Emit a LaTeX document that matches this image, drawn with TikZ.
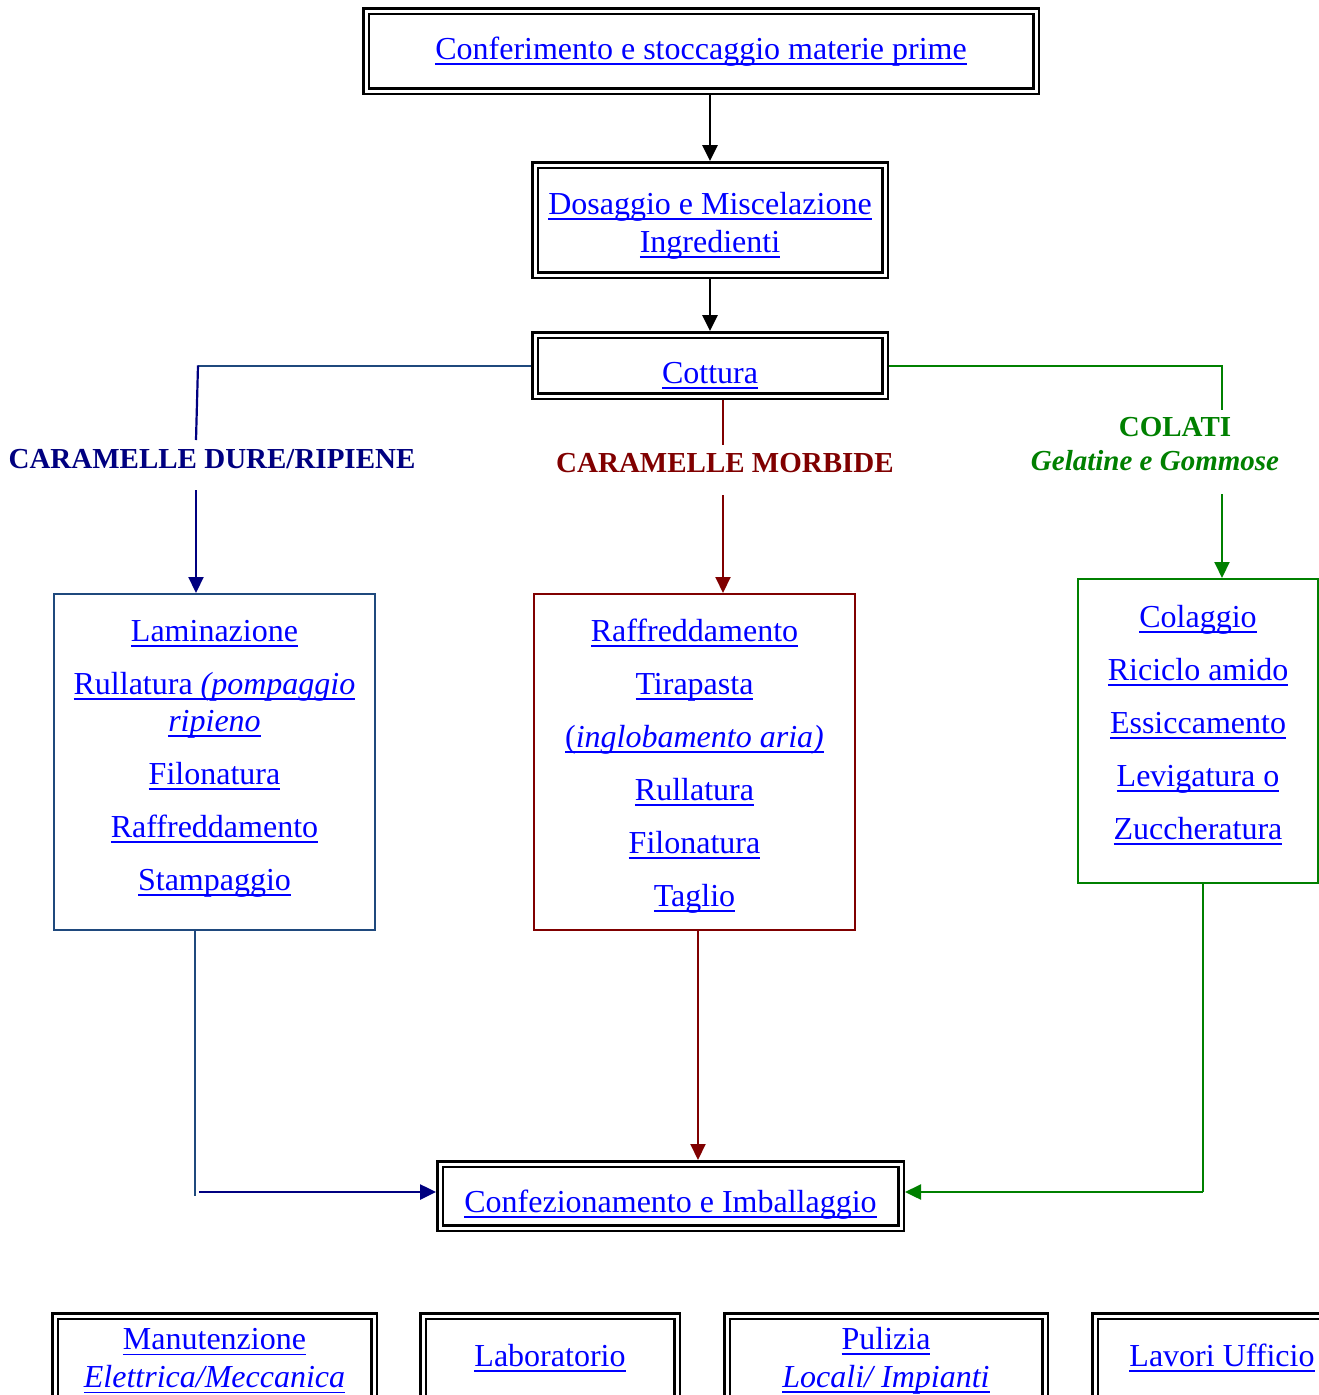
\documentclass[tikz,border=0pt]{standalone}
\usepackage{fontspec}
\setmainfont{Liberation Serif}
\usetikzlibrary{arrows.meta}

\definecolor{linkblue}{RGB}{0,0,255}
\definecolor{navyline}{RGB}{0,0,128}
\definecolor{steelline}{RGB}{31,73,125}
\definecolor{morbred}{RGB}{128,0,0}
\definecolor{colgreen}{RGB}{0,128,0}

\newsavebox{\lnkbox}
\newcommand{\lnk}[1]{\textcolor{linkblue}{\sbox{\lnkbox}{#1}%
  \rlap{\rule[-5.4pt]{\wd\lnkbox}{1.8pt}}\usebox{\lnkbox}}}
% lower a line inside its box without changing the box
\newcommand{\dn}[2]{\raisebox{-#1}[\height][\depth]{#2}}

\tikzset{
  dbox/.style={draw, double, line width=2.4pt, double distance=3pt, outer sep=4pt,
    align=center, font=\fontsize{32}{38}\selectfont},
  phasebox/.style={draw, line width=2pt, outer sep=1pt},
  phasetext/.style={align=center, inner sep=0pt, font=\fontsize{32}{37}\selectfont},
  catlabel/.style={inner sep=0pt, font=\fontsize{29}{34}\selectfont\bfseries},
  flowarrow/.style={-{Triangle[length=16pt,width=15pt]}}
}

\begin{document}
\begin{tikzpicture}[x=1pt, y=-1pt]
  \path[use as bounding box, clip] (0,0) rectangle (1319,1395);

  % main line
  \node[dbox, minimum width=670, minimum height=80] (confer) at (701,51)
    {\dn{1pt}{\lnk{Conferimento e stoccaggio materie prime}}};
  \node[dbox, minimum width=350, minimum height=110] (dosag) at (710,220)
    {\dn{6pt}{\lnk{Dosaggio e Miscelazione}}\\ \dn{6pt}{\lnk{Ingredienti}}};
  \node[dbox, minimum width=350, minimum height=61] (cottura) at (710,365.5)
    {\dn{10pt}{\lnk{Cottura}}};

  \draw[flowarrow, line width=2.8pt] (confer.south -| dosag.north) -- (dosag.north);
  \draw[flowarrow, line width=2.8pt] (dosag.south) -- (cottura.north);

  % categories
  \node[catlabel, text=navyline] (lblDure) at (212,459) {CARAMELLE DURE/RIPIENE};
  \node[catlabel, text=morbred] (lblMorb) at (725,463) {CARAMELLE MORBIDE};
  \node[catlabel, text=colgreen] (lblColati) at (1175,427) {COLATI};
  \node[catlabel, text=colgreen] (lblGel) at (1155,461) {\itshape Gelatine e Gommose};

  \coordinate (cornerA) at (198,364);
  \coordinate (dureTop) at (196,440);
  \coordinate (dureBot) at (196,490);
  \coordinate (morbTop) at (723,445);
  \coordinate (morbBot) at (723,495);
  \coordinate (colTop) at (1222,410);
  \coordinate (colBot) at (1222,494);

  % phase boxes
  \node[phasebox, draw=steelline, minimum width=321, minimum height=336] (dure) at (214.5,762) {};
  \node[phasebox, draw=morbred, minimum width=321, minimum height=336] (morb) at (694.5,762) {};
  \node[phasebox, draw=colgreen, minimum width=240, minimum height=304] (colati) at (1198,731) {};

  \node[phasetext] (dureText) at (214.5,759) {\lnk{Laminazione}\\[16pt]
    \lnk{Rullatura \textit{(pompaggio}}\\ \lnk{\textit{ripieno}}\\[16pt]
    \lnk{Filonatura}\\[16pt] \lnk{Raffreddamento}\\[16pt] \lnk{Stampaggio}};
  \node[phasetext] (morbText) at (694.5,766) {\lnk{Raffreddamento}\\[16pt]
    \lnk{Tirapasta}\\[16pt] \lnk{(\textit{inglobamento aria)}}\\[16pt]
    \lnk{Rullatura}\\[16pt] \lnk{Filonatura}\\[16pt] \lnk{Taglio}};
  \node[phasetext] (colText) at (1198,725) {\lnk{Colaggio}\\[16pt]
    \lnk{Riciclo amido}\\[16pt] \lnk{Essiccamento}\\[16pt]
    \lnk{Levigatura o}\\[16pt] \lnk{Zuccheratura}};

  \draw[steelline, line width=2pt] (cottura.west) -- (cornerA |- cottura.west);
  \draw[navyline, line width=2.2pt] (cornerA |- cottura.west) -- (dureTop);
  \draw[navyline, line width=2.2pt, flowarrow] (dureBot) -- (dureBot |- dure.north);
  \draw[morbred, line width=2pt] (cottura.south -| morbTop) -- (morbTop);
  \draw[morbred, line width=2pt, flowarrow] (morbBot) -- (morbBot |- morb.north);
  \draw[colgreen, line width=2pt] (cottura.east) -| (colTop);
  \draw[colgreen, line width=2pt, flowarrow] (colBot) -- (colBot |- colati.north);

  % packaging
  \node[dbox, minimum width=461, minimum height=64] (confez) at (670.5,1196)
    {\dn{9pt}{\lnk{Confezionamento e Imballaggio}}};

  \coordinate (cornerL) at (195,1192);
  \coordinate (morbOut) at (698,930);
  \coordinate (cornerR) at (1203,1192);

  \draw[steelline, line width=2pt] (cornerL |- dure.south) -- ([yshift=-4pt]cornerL);
  \draw[navyline, line width=2.6pt, flowarrow] ([xshift=4pt]cornerL) -- (cornerL -| confez.west);
  \draw[morbred, line width=2pt, flowarrow] (morbOut) -- (morbOut |- confez.north);
  \draw[colgreen, line width=2pt] (cornerR |- colati.south) -- (cornerR);
  \draw[colgreen, line width=2.4pt, flowarrow] (cornerR) -- (cornerR -| confez.east);

  % support services
  \node[dbox, minimum width=319, minimum height=84] (manut) at (214.5,1358)
    {\dn{3pt}{\lnk{Manutenzione}}\\ \dn{3pt}{\lnk{\textit{Elettrica/Meccanica}}}};
  \node[dbox, minimum width=254, minimum height=84] (lab) at (550,1358)
    {\lnk{Laboratorio}};
  \node[dbox, minimum width=318, minimum height=84] (pulizia) at (886,1358)
    {\dn{3pt}{\lnk{Pulizia}}\\ \dn{3pt}{\lnk{\textit{Locali/ Impianti}}}};
  \node[dbox, minimum width=254, minimum height=84] (uffici) at (1222,1358)
    {\lnk{Lavori Ufficio}};
\end{tikzpicture}
\end{document}
